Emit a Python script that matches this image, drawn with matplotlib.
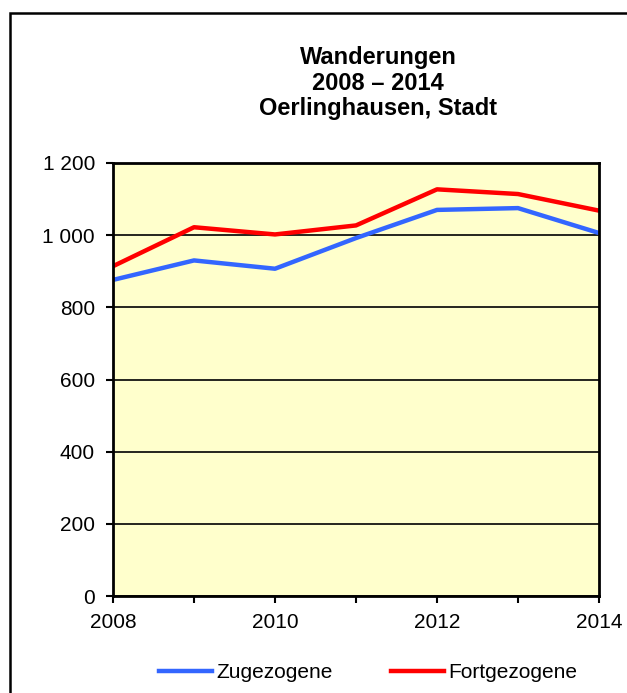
import matplotlib
matplotlib.use("Agg")
import matplotlib.pyplot as plt
from matplotlib.patches import Rectangle
from matplotlib.ticker import FuncFormatter, MultipleLocator

plt.rcParams["font.family"] = ["Liberation Sans", "DejaVu Sans"]

years = [2008, 2009, 2010, 2011, 2012, 2013, 2014]
zugezogene = [876, 930, 907, 992, 1070, 1075, 1006]
fortgezogene = [914, 1022, 1002, 1027, 1127, 1114, 1068]

W, H = 627, 693
fig = plt.figure(figsize=(W / 100, H / 100), dpi=100)

# outer frame (runs off the right and bottom edges)
fig.patches.append(Rectangle((10 / W, -0.05), 1.1, 1.05 - 13 / H,
                             transform=fig.transFigure, fill=False,
                             edgecolor="black", linewidth=1.8))

ax = fig.add_axes([113 / W, 1 - 596 / H, (599 - 113) / W, (596 - 163) / H])
ax.set_facecolor("#FFFFCC")

ax.plot(years, zugezogene, color="#3366FF", linewidth=3.2, label="Zugezogene")
ax.plot(years, fortgezogene, color="#FF0000", linewidth=3.2, label="Fortgezogene")

ax.set_xlim(2008, 2014)
ax.set_ylim(0, 1200)
ax.yaxis.set_major_locator(MultipleLocator(200))
ax.xaxis.set_major_locator(MultipleLocator(1))
ax.yaxis.set_major_formatter(FuncFormatter(lambda v, p: f"{int(v):,}".replace(",", " ")))
ax.xaxis.set_major_formatter(FuncFormatter(lambda v, p: f"{int(v)}" if int(v) % 2 == 0 else ""))
ax.grid(axis="y", color="black", linewidth=1.2)
ax.set_axisbelow(True)
for s in ax.spines.values():
    s.set_linewidth(2)
ax.tick_params(direction="out", length=5, width=1.5, labelsize=15)
ax.tick_params(axis="y", pad=8)
ax.tick_params(axis="x", pad=7)

fig.text(378 / W, 1 - 83 / H, "Wanderungen\n2008 – 2014\nOerlinghausen, Stadt",
         ha="center", va="center", fontsize=17, fontweight="bold", linespacing=1.15)

fig.legend(loc="center", bbox_to_anchor=(368 / W, 1 - 673 / H), ncol=2,
           frameon=False, fontsize=15, handlelength=2.55, handletextpad=0.2,
           columnspacing=2.8)

fig.savefig("out.png", dpi=100)
